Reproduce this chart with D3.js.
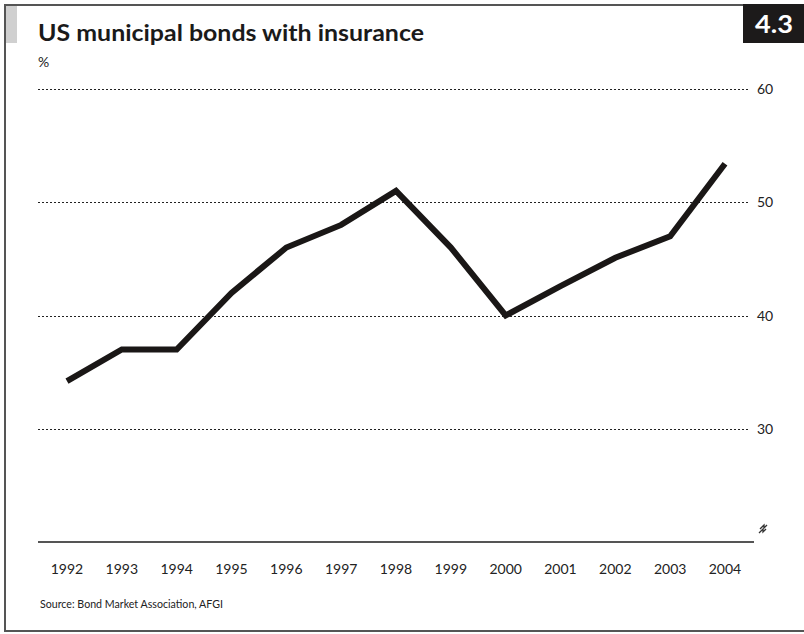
<!DOCTYPE html>
<html>
<head>
<meta charset="utf-8">
<script src="https://cdn.jsdelivr.net/npm/d3@7"></script>
<style>
  html, body { margin: 0; padding: 0; background: #fff; }
  svg { display: block; }
  text { font-family: Lato, "Open Sans", sans-serif; fill: #222; }
</style>
</head>
<body>
<svg id="chart" width="804" height="634"></svg>
<script>
// Share of US municipal bond issuance carrying insurance, %
const years = [1992, 1993, 1994, 1995, 1996, 1997, 1998, 1999, 2000, 2001, 2002, 2003, 2004];
const insuredShare = [34.2, 37, 37, 42, 46, 48, 51, 46, 40, 42.6, 45.1, 47, 53.4];
const yTicks = [30, 40, 50, 60];
const titleText = "US municipal bonds with insurance";
const chartNumber = "4.3";
const unitLabel = "%";
const sourceText = "Source: Bond Market Association, AFGI";

const svg = d3.select("#chart");

// Frame: left, top and bottom rules
svg.append("path")
  .attr("d", "M 744 5 H 5 V 631 H 804")
  .attr("fill", "none")
  .attr("stroke", "#555")
  .attr("stroke-width", 2);

// Grey tab at the top-left and the black chart-number badge
svg.append("rect").attr("x", 6).attr("y", 6).attr("width", 11).attr("height", 37).attr("fill", "#d0d0d0");
svg.append("rect").attr("x", 743).attr("y", 4).attr("width", 61).attr("height", 39).attr("fill", "#1c1a1a");
svg.append("text")
  .attr("x", 774).attr("y", 33)
  .attr("text-anchor", "middle")
  .attr("font-family", "'Open Sans', sans-serif")
  .attr("font-size", 25).attr("font-weight", 700)
  .attr("textLength", 38).attr("lengthAdjust", "spacingAndGlyphs")
  .style("fill", "#fff")
  .text(chartNumber);

// Title and unit
svg.append("text")
  .attr("x", 38).attr("y", 41)
  .attr("font-family", "'Open Sans', sans-serif")
  .attr("font-size", 23).attr("font-weight", 700)
  .attr("textLength", 386).attr("lengthAdjust", "spacingAndGlyphs")
  .style("fill", "#1a1a1a")
  .text(titleText);
svg.append("text")
  .attr("x", 38).attr("y", 67)
  .attr("font-size", 14)
  .text(unitLabel);

// Scales
const x = d3.scalePoint().domain(years).range([67, 725]);
const y = d3.scaleLinear().domain([20, 60]).range([542, 89]);

// Dotted gridlines with right-hand labels
const grid = svg.append("g");
grid.selectAll("line")
  .data(yTicks)
  .join("line")
  .attr("x1", 38).attr("x2", 750)
  .attr("y1", d => Math.round(y(d)) + 0.5).attr("y2", d => Math.round(y(d)) + 0.5)
  .attr("stroke", "#222")
  .attr("stroke-width", 1)
  .attr("stroke-dasharray", "2,2");
grid.selectAll("text")
  .data(yTicks)
  .join("text")
  .attr("x", 757).attr("y", d => y(d) + 5)
  .attr("font-size", 14)
  .text(d => d);

// Baseline axis with year labels
const xAxis = svg.append("g").attr("transform", "translate(0,542)");
xAxis.append("line")
  .attr("x1", 38).attr("x2", 754)
  .attr("stroke", "#555").attr("stroke-width", 2);
xAxis.selectAll("text")
  .data(years)
  .join("text")
  .attr("x", d => x(d)).attr("y", 32)
  .attr("text-anchor", "middle")
  .attr("font-size", 14)
  .text(d => d);

// Axis-break mark
const brk = svg.append("g").attr("transform", "translate(763,530)")
  .attr("fill", "none").attr("stroke", "#333").attr("stroke-width", 1.3);
brk.append("path").attr("d", "M -3 -1 L 1 -5 L 1 -2 L 4 -5");
brk.append("path").attr("d", "M -4 3 L 0 -1 L 0 2 L 3 -1");

// Data line
const line = d3.line()
  .x((d, i) => x(years[i]))
  .y(d => y(d));
svg.append("path")
  .datum(insuredShare)
  .attr("d", line)
  .attr("fill", "none")
  .attr("stroke", "#1a1716")
  .attr("stroke-width", 6)
  .attr("stroke-linejoin", "miter")
  .attr("stroke-linecap", "butt");

// Source note
svg.append("text")
  .attr("x", 40).attr("y", 608)
  .attr("font-size", 12)
  .attr("textLength", 183).attr("lengthAdjust", "spacingAndGlyphs")
  .text(sourceText);
</script>
</body>
</html>
